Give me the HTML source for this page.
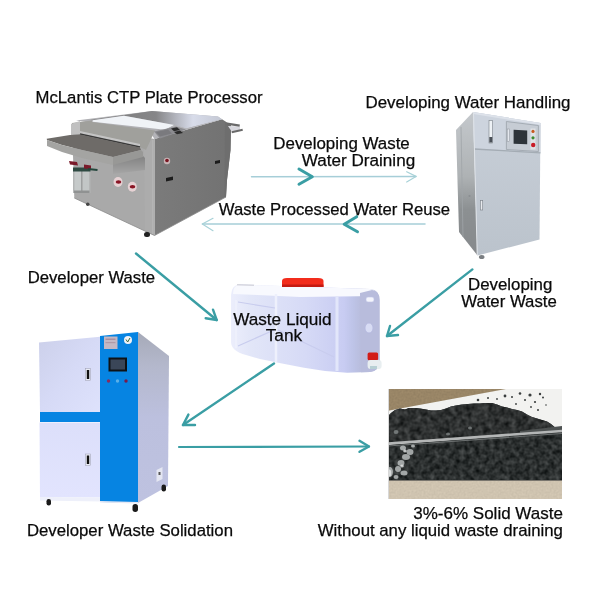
<!DOCTYPE html>
<html><head><meta charset="utf-8">
<style>
html,body{margin:0;padding:0;background:#fff;}
body{width:600px;height:600px;overflow:hidden;position:relative;}
svg{position:absolute;left:0;top:0;}
.t{font-family:"Liberation Sans",sans-serif;font-size:16.7px;fill:#0a0a0a;stroke:#0a0a0a;stroke-width:0.25px;}
</style></head><body>
<svg width="600" height="600" viewBox="0 0 600 600">
<defs>
  <linearGradient id="ctpRight" x1="0" y1="0" x2="1" y2="0">
    <stop offset="0" stop-color="#7b7b7b"/><stop offset="1" stop-color="#727272"/>
  </linearGradient>
  <linearGradient id="ctpFront" x1="0" y1="0" x2="1" y2="0">
    <stop offset="0" stop-color="#dedede"/><stop offset="1" stop-color="#d2d2d2"/>
  </linearGradient>
  <linearGradient id="tray" x1="0" y1="0" x2="1" y2="1">
    <stop offset="0" stop-color="#9a9a98"/><stop offset="1" stop-color="#8a8a88"/>
  </linearGradient>

  <linearGradient id="whLeft" x1="0" y1="0" x2="0" y2="1">
    <stop offset="0" stop-color="#c4c8cc"/><stop offset="0.45" stop-color="#aeb2b4"/><stop offset="0.68" stop-color="#8c9092"/><stop offset="1" stop-color="#86898c"/>
  </linearGradient>
  <linearGradient id="whFront" x1="0" y1="0" x2="0" y2="1">
    <stop offset="0" stop-color="#c8cfd8"/><stop offset="1" stop-color="#bbc3cc"/>
  </linearGradient>
  <linearGradient id="tankG" x1="0" y1="0" x2="1" y2="0">
    <stop offset="0" stop-color="#eceefc"/><stop offset="0.13" stop-color="#e2e6f8"/><stop offset="0.5" stop-color="#d6daf6"/><stop offset="0.76" stop-color="#c8ccf2"/><stop offset="0.82" stop-color="#bec4e8"/><stop offset="0.9" stop-color="#b6bad8"/><stop offset="1" stop-color="#b8bcdc"/>
  </linearGradient>
  <linearGradient id="solRight" x1="0" y1="0" x2="0" y2="1">
    <stop offset="0" stop-color="#a6aab8"/><stop offset="0.2" stop-color="#b4b8cc"/><stop offset="0.5" stop-color="#bcc0de"/><stop offset="1" stop-color="#bec2e0"/>
  </linearGradient>
  <linearGradient id="solDoor1" x1="0" y1="0" x2="1" y2="1">
    <stop offset="0" stop-color="#ccd0ea"/><stop offset="0.5" stop-color="#d6daf6"/><stop offset="1" stop-color="#dee2fc"/>
  </linearGradient>
  <linearGradient id="solDoor2" x1="0" y1="0" x2="0" y2="1">
    <stop offset="0" stop-color="#dcdffa"/><stop offset="1" stop-color="#e2e4fe"/>
  </linearGradient>
  <clipPath id="photoClip"><rect x="388" y="389" width="174" height="110"/></clipPath>
  <filter id="grain" color-interpolation-filters="sRGB" x="388" y="389" width="174" height="110" filterUnits="userSpaceOnUse">
    <feTurbulence type="fractalNoise" baseFrequency="0.18" numOctaves="2" seed="4" result="n"/>
    <feColorMatrix in="n" type="matrix" values="0.34 0 0 0 0.01  0.34 0 0 0 0.02  0.34 0 0 0 0.02  0 0 0 0 1" result="c"/>
    <feComposite in="c" in2="SourceGraphic" operator="in"/>
  </filter>
  <filter id="grainTan" color-interpolation-filters="sRGB" x="388" y="389" width="174" height="110" filterUnits="userSpaceOnUse">
    <feTurbulence type="fractalNoise" baseFrequency="0.5" numOctaves="2" seed="2" result="n"/>
    <feColorMatrix in="n" type="matrix" values="0 0 0 0 0  0 0 0 0 0  0 0 0 0 0  1.2 0 0 0 -0.3" result="c"/>
    <feComposite in="c" in2="SourceGraphic" operator="in"/>
  </filter>
  <filter id="grain2" color-interpolation-filters="sRGB" x="388" y="389" width="174" height="110" filterUnits="userSpaceOnUse">
    <feTurbulence type="fractalNoise" baseFrequency="0.2" numOctaves="2" seed="9" result="n"/>
    <feColorMatrix in="n" type="matrix" values="0.34 0 0 0 0.0  0.34 0 0 0 0.015  0.34 0 0 0 0.015  0 0 0 0 1" result="c"/>
    <feComposite in="c" in2="SourceGraphic" operator="in"/>
  </filter>
  <linearGradient id="trayShadow" x1="0" y1="0" x2="0" y2="1">
    <stop offset="0" stop-color="#828282"/><stop offset="1" stop-color="#a6a6a6"/>
  </linearGradient>
  <linearGradient id="ctpBack" x1="90" y1="0" x2="222" y2="0" gradientUnits="userSpaceOnUse">
    <stop offset="0" stop-color="#7a7a7a"/><stop offset="0.5" stop-color="#868688"/><stop offset="0.78" stop-color="#d8dcea"/><stop offset="1" stop-color="#c4c8d4"/>
  </linearGradient>
  <filter id="soft" x="0" y="0" width="600" height="600" filterUnits="userSpaceOnUse" color-interpolation-filters="sRGB">
    <feGaussianBlur stdDeviation="0.4"/>
  </filter>
</defs>

<g filter="url(#soft)">
<!-- ============ CTP PROCESSOR ============ -->
<g id="ctp">
  <!-- right face -->
  <polygon points="154.5,139 222,119.3 231,125 230.5,150 227,180 226,197 154.5,235.5" fill="url(#ctpRight)"/>
  <polygon points="225,122 231,125 230.5,150 227,180 226,197 224.5,197.5" fill="#6e6e6e"/>
  <!-- front face -->
  <polygon points="72,123 154.5,139 154.5,235.5 74.3,198" fill="#a9a9a9"/>
  <!-- pillar -->
  <polygon points="144,140 154.5,139 154.5,235.5 145,231" fill="#acacac"/>
  <line x1="152.8" y1="140" x2="152.8" y2="234" stroke="#b8b8b8" stroke-width="1"/>
  <!-- bottom edges -->
  <polyline points="74.3,198 154.5,235.5 226,197" fill="none" stroke="#8c8c8c" stroke-width="0.8"/>
  <!-- top surface -->
  <polygon points="76,120.5 152,111 218,116.5 222,119.3 154.5,139 150,132" fill="#b0b0b4"/>
  <!-- back region -->
  <polygon points="90,120 152,111 218,116.5 222,119.3 186,128.5 174.3,125 124,115.7 92.7,120.3" fill="url(#ctpBack)"/>
  <!-- lid -->
  <polygon points="92.7,120.3 124,115.7 174.3,125 165,129.7 92.7,121.8" fill="#f0f3f7"/>
  <!-- front-top bevel right of lid -->
  <polygon points="165,129.7 174.3,125 186,128.5 222,119.3 154.5,139 153,132" fill="#b4b4b8"/>
  <!-- slot housing band -->
  <polygon points="72,123 92,120.5 92,122 155,130.5 146,150 140,147 80,133 71,134" fill="#a0a09c"/>
  <polygon points="71,124 80,121 80,134 71,135" fill="#c0c0c0"/>
  <polygon points="80,131 140,144 140,147 80,134" fill="#c4c4c4"/>
  <line x1="80" y1="134" x2="140" y2="147" stroke="#3a3a3a" stroke-width="1.5"/>
  <!-- shadow under tray right part -->
  <polygon points="113,164 143,156 145,158 145,170 113,174" fill="url(#trayShadow)"/>
  <!-- tray top -->
  <polygon points="46.7,138.7 70,135 80,134.5 140,147.5 141,150 113,157 82,150 62,145 47,140" fill="#6e6b68"/>
  <!-- tray front edge -->
  <polygon points="47,140 62,145 82,150 113,157 113,165 82,158 62,152 47,146" fill="#a4a4a2"/>
  <!-- tray right edge -->
  <polygon points="113,157 141,150 143,152 143,157 113,165" fill="#989896"/>
  <!-- control panel -->
  <polygon points="154,131.5 176,126.5 186,129.5 160,138.5" fill="#8c8c90"/>
  <polygon points="156,132 168,129.5 172,133.5 160,136.5" fill="#7a7a7e"/>
  <polygon points="171,128.5 177,127.3 180,130 174,131.3" fill="#2a2a2a"/>
  <polygon points="174,132 180,130.6 183,133 177,134.3" fill="#2a2a2a"/>
  <!-- output rack -->
  <polygon points="228,126 240,126.5 240,129.5 232,132" fill="#d8d8de"/>
  <polyline points="227,123.7 239.7,125.7" fill="none" stroke="#6a6a6a" stroke-width="2.2"/>
  <polyline points="231.7,132.3 242.7,129.7" fill="none" stroke="#6a6a6a" stroke-width="2"/>
  <!-- knobs -->
  <ellipse cx="118" cy="182" rx="4.5" ry="5" fill="#e6d2d4"/>
  <ellipse cx="118.5" cy="182" rx="2.8" ry="1.8" fill="#8a1424"/>
  <ellipse cx="132.3" cy="186.7" rx="4.5" ry="5" fill="#e6d2d4"/>
  <ellipse cx="132.5" cy="186.7" rx="2.8" ry="1.8" fill="#8a1424"/>
  <!-- logo -->
  <circle cx="167" cy="161" r="3.2" fill="#c8b4b6"/>
  <circle cx="167" cy="160.5" r="1.8" fill="#7a1420"/>
  <!-- slots -->
  <polygon points="166,178 173,176.5 173,180 166,181.5" fill="#1c1c1c"/>
  <polygon points="215,161 220,160 220,163 215,164" fill="#1c1c1c"/>
  <!-- filter jars -->
  <rect x="73" y="169" width="17.5" height="24" fill="#b4b6b6"/>
  <rect x="74.5" y="171" width="6.5" height="21" fill="#c6caca"/>
  <rect x="82.5" y="171" width="6.5" height="21" fill="#c2c6c6"/>
  <line x1="81.8" y1="170" x2="81.8" y2="193" stroke="#8a8e8e" stroke-width="0.8"/>
  <rect x="74" y="190.5" width="15.5" height="2.5" fill="#909292"/>
  <rect x="73" y="167.5" width="17.5" height="4" fill="#2e4a42"/>
  <polygon points="69,161 77,162 78,165.5 70,164.5" fill="#7a1a2a"/>
  <polygon points="84,164.5 91,165.5 91,169 84,168.5" fill="#7a1a2a"/>
  <line x1="88" y1="169" x2="97.5" y2="170" stroke="#24463c" stroke-width="2"/>
  <!-- wheels -->
  <rect x="144" y="232" width="6" height="5" rx="2.5" fill="#222"/>
  <rect x="86" y="202.5" width="3.5" height="3.5" rx="1.7" fill="#444"/>
</g>

<!-- ============ WATER HANDLING CABINET ============ -->
<g id="wh">
  <!-- left face -->
  <polygon points="456,130 473,112 477.5,255.5 459,232" fill="url(#whLeft)"/>
  <line x1="461" y1="127" x2="463" y2="237" stroke="#a0a4a8" stroke-width="0.8"/>
  <!-- front face -->
  <polygon points="473,112 540.5,123 539.5,239.5 477.5,255.5" fill="url(#whFront)"/>
  <!-- upper panel -->
  <polygon points="473,112 540.5,123 540.5,152.5 474,148.5" fill="#cdd4de"/>
  <polygon points="473,112 540.5,123 540.5,125 473.2,114" fill="#dde2ea"/>
  <line x1="474" y1="149" x2="540.5" y2="152.8" stroke="#a4acb4" stroke-width="1.3"/>
  <line x1="473.5" y1="112" x2="477.2" y2="255" stroke="#dfe3e8" stroke-width="1"/>
  <!-- display frame -->
  <polygon points="506.4,121.5 538.4,125.5 538.4,151.5 506.4,149.5" fill="#c6ccd4" stroke="#9aa2aa" stroke-width="0.8"/>
  <polygon points="513.6,129.8 527.2,130.6 527.2,144.2 513.6,143.8" fill="#2e343a"/>
  <rect x="530.5" y="128.5" width="5" height="21" fill="#dfe2e6"/>
  <circle cx="533" cy="131.4" r="1.6" fill="#c85a20"/>
  <circle cx="533" cy="137.8" r="1.6" fill="#3a8a30"/>
  <circle cx="533.2" cy="145" r="2.2" fill="#c81c28"/>
  <!-- flowmeter -->
  <rect x="489" y="120.5" width="3.6" height="22.5" fill="#eef2f6" stroke="#7a8088" stroke-width="0.6"/>
  <rect x="489.3" y="137" width="3" height="5.5" fill="#4a5058"/>
  <rect x="507.2" y="129" width="2.4" height="12.5" fill="#e4e8ee" stroke="#8a9098" stroke-width="0.5"/>
  <!-- handle -->
  <rect x="480.5" y="200.5" width="2.2" height="9.5" fill="#e8eaee" stroke="#7a8088" stroke-width="0.6"/>
  <circle cx="469.5" cy="196" r="1.1" fill="#8a8e92"/>
  <!-- foot -->
  <ellipse cx="481.7" cy="257" rx="2.8" ry="2" fill="#7a7e82"/>
</g>

<!-- ============ WASTE LIQUID TANK ============ -->
<g id="tank">
  <!-- body -->
  <path d="M240,284.5 L370,289 Q379.5,290 379.5,300 L379.5,362 Q379,371 370,372 L347,372.8 L325,371 L304,367.8 L282,363.5 L260,359 L246,355 Q231,351 231,342 L231,295 Q231.5,284.5 240,284.5 Z" fill="url(#tankG)"/>
  <!-- top face highlight -->
  <path d="M240,284.5 L370,289 Q377,290 378,296 L300,297 L233,294 Q233,285 240,284.5 Z" fill="#f8f9fe"/>
  <line x1="237" y1="284.8" x2="254" y2="285.2" stroke="#b8b8c4" stroke-width="0.8"/>
  <!-- right end face -->
  <path d="M360,293 L372,290 Q379.5,290.5 379.5,300 L379.5,362 Q379,371 370,372 L361,372.3 Z" fill="#b8bcdc"/>
  <!-- ribs -->
  <line x1="276" y1="294" x2="276" y2="362" stroke="#eef0fc" stroke-width="2.5"/>
  <line x1="337" y1="297" x2="337" y2="371" stroke="#e2e6fa" stroke-width="3"/>
  <path d="M238,302 L275,308 M238,346 L274,330 M278,330 L334,357" fill="none" stroke="#c8ccee" stroke-width="1.2"/>
  <path d="M236,300 L236,348" stroke="#eef0fc" stroke-width="2"/>
  <!-- cap -->
  <path d="M282,287 L282,281 Q282,278 287,278 L318,278 Q323.5,278 323.5,281 L323.5,287 Z" fill="#f22c1c"/>
  <rect x="282" y="284.5" width="41.5" height="2.5" fill="#c41a12"/>
  <!-- handle at right top -->
  <rect x="366" y="297" width="8" height="5" rx="2" fill="#f4f5fd" stroke="#c0c4e6" stroke-width="0.6"/>
  <ellipse cx="369" cy="328" rx="4" ry="5" fill="#d8dcf4" stroke="#b4b8de" stroke-width="0.8"/>
  <!-- spigot -->
  <rect x="367.6" y="352.6" width="10.5" height="7.6" rx="1.5" fill="#d21c18"/>
  <rect x="367.6" y="360" width="14" height="9" rx="3" fill="#e8eef0"/>
  <rect x="370" y="366" width="7" height="3" fill="#b8d0d4"/>
</g>

<!-- ============ SOLIDIFICATION MACHINE ============ -->
<g id="sol">
  <!-- right face -->
  <polygon points="138,332 169,356 168,486 138,503" fill="url(#solRight)"/>
  <!-- blue column -->
  <polygon points="100,336 138,332 138,503 100,502" fill="#0684e2"/>
  <!-- upper door -->
  <polygon points="39,342.5 100,336.7 100,412 40,412" fill="url(#solDoor1)"/>
  <rect x="40" y="412" width="60" height="10" fill="#0684e2"/>
  <!-- lower door -->
  <polygon points="39.5,422.5 100,422.5 100,497.5 40,497" fill="url(#solDoor2)"/>
  <polygon points="40,497 100,497.5 100,501.5 40,500.5" fill="#eef0fa"/>
  <polygon points="100,501 138,502 138,503.5 100,502.5" fill="#e6e8f4"/>
  <!-- label plate -->
  <rect x="104" y="336.5" width="13.5" height="12.5" fill="#c4b8c4"/>
  <rect x="105.5" y="338.5" width="10" height="1.5" fill="#a890a0"/>
  <rect x="105.5" y="342" width="10" height="1.2" fill="#b09aa8"/>
  <circle cx="128" cy="340" r="4" fill="#f0f2f6"/>
  <path d="M126,339.5 L127.7,342 L130,338" fill="none" stroke="#3a6a3a" stroke-width="1"/>
  <!-- screen -->
  <rect x="108.5" y="357.5" width="18.5" height="14" fill="#0e1216"/>
  <rect x="110.5" y="359.5" width="14.5" height="10" fill="#3a4658"/>
  <circle cx="108.5" cy="381" r="1.7" fill="#8a2a5a"/>
  <circle cx="117.5" cy="381" r="1.7" fill="#5ab0e8"/>
  <circle cx="126" cy="381" r="1.7" fill="#7a1a4a"/>
  <!-- handles -->
  <rect x="85.5" y="368.5" width="5" height="12" fill="#e8eaf4" stroke="#9a9cb0" stroke-width="0.5"/>
  <rect x="86.8" y="370" width="2.4" height="9" fill="#111"/>
  <rect x="85.5" y="454" width="5" height="11.5" fill="#e8eaf4" stroke="#9a9cb0" stroke-width="0.5"/>
  <rect x="86.8" y="455.5" width="2.4" height="8.5" fill="#111"/>
  <!-- outlet box -->
  <polygon points="156.5,470 162.5,467 162.5,479 156.5,482" fill="#e4e6f2"/>
  <rect x="158.5" y="472" width="2" height="3" fill="#555"/>
  <!-- wheels -->
  <rect x="46.5" y="499" width="4.5" height="6.5" rx="2.2" fill="#1a1a1a"/>
  <rect x="132.5" y="504" width="5.5" height="8" rx="2.7" fill="#1a1a1a"/>
  <rect x="161.5" y="484.5" width="4.5" height="7" rx="2.2" fill="#1a1a1a"/>
</g>

<!-- ============ SOLID WASTE PHOTO ============ -->
<g id="photo" clip-path="url(#photoClip)">
  <rect x="388" y="389" width="174" height="110" fill="#f2f2f0"/>
  <polygon points="388,389 506,389 388,410.7" fill="#9e8a6a"/>
  <polygon points="388,389 506,389 388,410.7" fill="#000" filter="url(#grainTan)" opacity="0.1"/>
  <!-- pile -->
  <path d="M388,416 L391,413 L395,410 L400,408.5 L405,409.5 L409,408 L415,408 L420,408.5 L426,409.5 L431,410.5 L436,410.5 L441,410 L446,408.5 L451,406.5 L456,405.5 L462,404.5 L468,404 L474,403.5 L480,403.5 L486,403 L492,403 L497,404.5 L502,406.5 L507,407.5 L512,409 L517,410 L522,411.5 L527,414.5 L532,417 L537,418.5 L542,420 L547,421.5 L551,424 L554,426.5 L556,428.5 L556,431.5 L388,444 Z" fill="#2c3032"/>
  <path d="M388,416 L391,413 L395,410 L400,408.5 L405,409.5 L409,408 L415,408 L420,408.5 L426,409.5 L431,410.5 L436,410.5 L441,410 L446,408.5 L451,406.5 L456,405.5 L462,404.5 L468,404 L474,403.5 L480,403.5 L486,403 L492,403 L497,404.5 L502,406.5 L507,407.5 L512,409 L517,410 L522,411.5 L527,414.5 L532,417 L537,418.5 L542,420 L547,421.5 L551,424 L554,426.5 L556,428.5 L556,431.5 L388,444 Z" filter="url(#grain)"/>
  <!-- container side strip at right -->
  <polygon points="520,431 562,426 562,431.5 520,434" fill="#4e5252"/>
  <!-- lower dark -->
  <polygon points="388,445 562,431.5 562,481 388,481" fill="#2c3232"/>
  <polygon points="388,445 562,431.5 562,481 388,481" filter="url(#grain2)"/>
  <!-- rim -->
  <line x1="388" y1="443.5" x2="562" y2="431" stroke="#b4b6b6" stroke-width="2.6"/>
  <line x1="388" y1="446" x2="562" y2="433.5" stroke="#6a6e6e" stroke-width="1.2"/>
  <!-- bottom tan -->
  <rect x="388" y="480" width="174" height="19" fill="#d4c8b4"/>
  <rect x="388" y="480" width="174" height="19" fill="#000" filter="url(#grainTan)" opacity="0.07"/>
  <line x1="388" y1="480.5" x2="562" y2="480.5" stroke="#7a766e" stroke-width="1.2"/>
  <!-- specks -->
  <g fill="#3a3e3e">
    <circle cx="478" cy="400" r="1.3"/><circle cx="488" cy="398" r="1"/><circle cx="505" cy="396" r="1.4"/>
    <circle cx="512" cy="397" r="1"/><circle cx="520" cy="393.5" r="1.3"/><circle cx="530" cy="395" r="1.6"/>
    <circle cx="540" cy="394" r="1.2"/><circle cx="543" cy="397.5" r="1"/><circle cx="535" cy="402" r="1.1"/>
    <circle cx="538" cy="410" r="1"/><circle cx="525" cy="400" r="1"/><circle cx="497" cy="399" r="0.9"/>
    <circle cx="516" cy="404" r="0.9"/><circle cx="546" cy="405" r="0.8"/><circle cx="531" cy="407" r="0.9"/>
  </g>
  <!-- light patches in dark -->
  <g fill="#b8bcbc" opacity="0.85">
    <ellipse cx="403" cy="448" rx="3" ry="2.5"/><ellipse cx="410" cy="452" rx="3.5" ry="3"/><ellipse cx="406" cy="457" rx="4" ry="3"/>
    <ellipse cx="401" cy="463" rx="3.5" ry="3"/><ellipse cx="398" cy="469" rx="3" ry="3"/><ellipse cx="404" cy="473" rx="3.5" ry="2.5"/>
    <ellipse cx="390" cy="472" rx="3" ry="5"/><ellipse cx="413" cy="446" rx="2" ry="1.5"/><ellipse cx="396" cy="477" rx="2.5" ry="2"/>
  </g>
  <g fill="#e8eaea" opacity="0.8">
    <ellipse cx="405" cy="451" rx="1.8" ry="1.5"/><ellipse cx="402" cy="466" rx="1.8" ry="1.5"/><ellipse cx="389.5" cy="473" rx="1.8" ry="3.5"/>
  </g>
  <g fill="#9ea4a4" opacity="0.6">
    <ellipse cx="396" cy="432" rx="2.5" ry="2"/><ellipse cx="448" cy="434" rx="2" ry="1.5"/><ellipse cx="470" cy="428" rx="2" ry="1.5"/>
  </g>
  <line x1="388.5" y1="389" x2="388.5" y2="499" stroke="#d8d8d8" stroke-width="1"/>
</g>

</g>
<!-- ============ ARROWS ============ -->
<g fill="none" stroke-linecap="round" stroke-linejoin="round">
  <line x1="251.5" y1="176.7" x2="416" y2="176.5" stroke="#a6ced8" stroke-width="1.5"/>
  <polyline points="299,169 312.3,176.7 299,184.3" stroke="#3a9ea4" stroke-width="3"/>
  <polyline points="406.7,171.7 416,176.4 406.7,182" stroke="#a8d2d8" stroke-width="1.2"/>

  <line x1="202.5" y1="224" x2="425" y2="224" stroke="#a6ced8" stroke-width="1.5"/>
  <polyline points="356.7,216.7 344.2,224.2 357.5,231.7" stroke="#3a9ea4" stroke-width="3"/>
  <polyline points="213,218.3 202.3,224 213,230.7" stroke="#a8d2d8" stroke-width="1.2"/>

  <line x1="136" y1="253.5" x2="216.7" y2="320" stroke="#3a9ea4" stroke-width="2.4"/>
  <polyline points="213,309.7 216.7,320 205.7,318.3" stroke="#3a9ea4" stroke-width="2.4"/>

  <line x1="472.4" y1="269.4" x2="387" y2="336" stroke="#3a9ea4" stroke-width="2.4"/>
  <polyline points="390,326 387,336 398,335" stroke="#3a9ea4" stroke-width="2.4"/>

  <line x1="274" y1="363.4" x2="183" y2="425" stroke="#3a9ea4" stroke-width="2.4"/>
  <polyline points="188.4,414.6 183,425 195,425" stroke="#3a9ea4" stroke-width="2.4"/>

  <line x1="179" y1="447" x2="369" y2="446.5" stroke="#3a9ea4" stroke-width="2.2"/>
  <polyline points="359.5,440.8 369,446.5 359.5,451.8" stroke="#3a9ea4" stroke-width="2.4"/>
</g>

<!-- ============ TEXT ============ -->
<g opacity="0.995">
<text class="t" x="35.6" y="103">McLantis CTP Plate Processor</text>
<text class="t" style="font-size:16.9px" x="365.5" y="107.8">Developing Water Handling</text>
<text class="t" style="font-size:16.9px" x="273.3" y="149">Developing Waste</text>
<text class="t" style="font-size:17.1px" x="301.8" y="165.8">Water Draining</text>
<text class="t" style="font-size:16.68px" x="218.8" y="215">Waste Processed Water Reuse</text>
<text class="t" x="27.7" y="283.4">Developer Waste</text>
<text class="t" style="font-size:16.85px" x="468" y="290.3">Developing</text>
<text class="t" style="font-size:16.75px" x="461.2" y="306.5">Water Waste</text>
<text class="t" style="font-size:17.15px" x="233.2" y="324.6">Waste Liquid</text>
<text class="t" style="font-size:17.3px" x="265.7" y="340.6">Tank</text>
<text class="t" style="font-size:16.75px" x="26.9" y="535.5">Developer Waste Solidation</text>
<text class="t" style="font-size:17.0px" x="413.3" y="518.8">3%-6% Solid Waste</text>
<text class="t" style="font-size:16.78px" x="317.8" y="535.5">Without any liquid waste draining</text>
</g>
</svg>
</body></html>
